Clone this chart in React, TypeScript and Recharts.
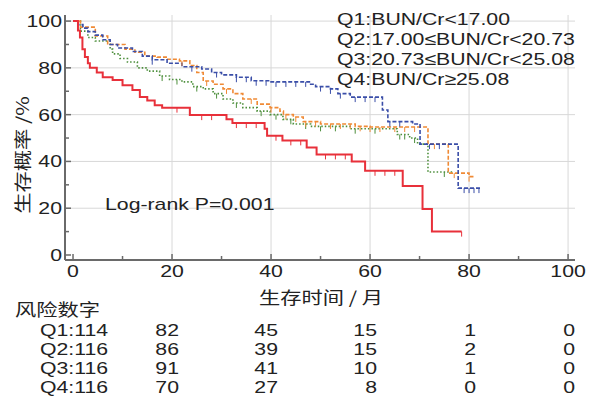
import React from 'react';
import { ComposedChart, Line, Scatter, XAxis, YAxis, CartesianGrid } from 'recharts';

// Kaplan-Meier step points: month / survival %
const q1Time = [0, 1, 2, 3, 4.5, 6, 7.5, 9, 12, 14, 16, 19, 22, 26, 28, 30, 33, 36, 40, 48, 49, 52, 53.5, 56, 62.5, 63.6, 68.6, 70.1, 77.8, 82.4];
const q1Surv = [100, 98.5, 97, 95.5, 94, 92, 90, 88.5, 87, 85, 83.5, 82, 80.5, 79.5, 78, 77, 76, 74.5, 74, 73, 72, 71, 69, 67.5, 62, 57, 56, 47.4, 28.6, 28.6];

const q2Time = [0, 1.5, 4.5, 7, 10.5, 12.5, 14.5, 17, 19, 21.5, 23.6, 25, 26.3, 28.3, 30.3, 32.3, 34.3, 37.2, 39.8, 41.8, 42.5, 44.5, 46.5, 50, 57, 60, 71.7, 75.8, 80, 81];
const q2Surv = [100, 97.4, 93.6, 90, 88, 86.7, 85, 84.6, 83.7, 83, 81, 78, 74.4, 73, 71, 69, 66.7, 64.5, 63, 61.5, 60, 59, 57, 56, 55, 54.7, 47.4, 35, 33.5, 33.5];

const q3Time = [0, 1.5, 3, 4.5, 7.5, 8, 9.5, 11, 13, 15, 17.5, 19.5, 22, 24.2, 26.3, 28.3, 30.3, 32.3, 34.3, 37.2, 39.8, 42.4, 44.5, 48, 56, 65.5, 68, 69.6, 71.7, 77];
const q3Surv = [100, 95.7, 93, 91.5, 88, 86, 84, 82.5, 80, 78.6, 76.5, 75, 74, 72, 71, 69, 66.7, 65, 63, 61.5, 60, 58, 56, 55, 54, 51.5, 50, 47.4, 35.5, 35.5];

const q4Time = [0, 1, 1.4, 1.9, 2.4, 3, 3.4, 4.8, 6, 8, 10, 12, 13.5, 15, 16.5, 18, 23.6, 31, 32.2, 38.7, 39.2, 42.3, 47.2, 49.2, 56.3, 59, 66.6, 70.6, 72.5, 78.5];
const q4Surv = [100, 96, 93, 88, 84.6, 82, 80, 78, 76, 74.8, 72.6, 70.5, 67.5, 66, 64, 63, 59.8, 58, 56.4, 54, 51, 49, 46, 43, 40, 36, 29.5, 19.7, 10, 10];

// censored observations (months)
const q1Censor = [16, 24, 29, 33, 35, 37, 39, 41, 43, 45, 47, 50, 52, 54, 57, 59, 61, 64, 66, 72, 74, 79, 80, 81, 82];
const q2Censor = [22, 27, 31, 36, 40, 43, 45, 47, 49, 52, 54, 56, 58, 60, 62, 65, 67, 69, 73, 77, 80];
const q3Censor = [18, 21, 25, 29, 33, 38, 41, 44, 47, 50, 53, 57, 61, 66, 67, 69, 75];
const q4Censor = [21, 26, 28, 33, 35, 37, 41, 44, 46, 51, 53, 55, 61, 63, 65, 78.5];

const xTicks = [0, 10, 20, 30, 40, 50, 60, 70, 80, 90, 100];
const yTicks = [0, 10, 20, 30, 40, 50, 60, 70, 80, 90, 100];
const gridValues = [20, 40, 60, 80, 100];

const legendLines = ['Q1:BUN/Cr<17.00', 'Q2:17.00≤BUN/Cr<20.73', 'Q3:20.73≤BUN/Cr<25.08', 'Q4:BUN/Cr≥25.08'];
const riskMonths = [20, 40, 60, 80, 100];
const riskLabels = ['Q1:114', 'Q2:116', 'Q3:116', 'Q4:116'];
const riskQ1 = [82, 45, 15, 1, 0];
const riskQ2 = [86, 39, 15, 2, 0];
const riskQ3 = [91, 41, 10, 1, 0];
const riskQ4 = [70, 27, 8, 0, 0];

const W = 592;
const H = 405;
const FONT = '"Liberation Sans", Arial, sans-serif';
const CJK = '"Noto Sans CJK SC", sans-serif';
const axisColor = '#6a6a6a';
const textColor = '#222';

const toSteps = (t: number[], s: number[]) => t.map((v, i) => ({ t: v, s: s[i] }));
const survAt = (t: number[], s: number[], x: number) => {
  let v = s[0];
  t.forEach((tt, i) => {
    if (tt <= x) v = s[i];
  });
  return v;
};
const toCensor = (c: number[], t: number[], s: number[]) => c.map((x) => ({ t: x, s: survAt(t, s, x) }));

const series = [
  { key: 'Q3', color: '#4d8f3c', dash: '1.5 2', width: 1.6, steps: toSteps(q3Time, q3Surv), cens: toCensor(q3Censor, q3Time, q3Surv) },
  { key: 'Q2', color: '#f08a35', dash: '4 2', width: 1.6, steps: toSteps(q2Time, q2Surv), cens: toCensor(q2Censor, q2Time, q2Surv) },
  { key: 'Q1', color: '#3a4ea8', dash: '4 2', width: 1.6, steps: toSteps(q1Time, q1Surv), cens: toCensor(q1Censor, q1Time, q1Surv) },
  { key: 'Q4', color: '#e8303a', dash: undefined, width: 2, steps: toSteps(q4Time, q4Surv), cens: toCensor(q4Censor, q4Time, q4Surv) },
];

// stretched text, the source figure uses wide lettering
const T = ({ x, y, anchor = 'start', size = 17, family = FONT, children }: any) => (
  <text
    transform={`translate(${x},${y}) scale(1.25,1)`}
    textAnchor={anchor}
    fontSize={size}
    fontFamily={family}
    fill={textColor}
  >
    {children}
  </text>
);

const XTick = (props: any) => {
  const { x, y, payload } = props;
  const major = payload.value % 20 === 0;
  return (
    <g>
      <line x1={x} y1={y} x2={x} y2={y - (major ? 6 : 4)} stroke={axisColor} strokeWidth={1.5} />
      {major && (
        <T x={x} y={y + 17} anchor="middle">
          {payload.value}
        </T>
      )}
    </g>
  );
};

const YTick = (props: any) => {
  const { x, y, payload } = props;
  const major = payload.value % 20 === 0;
  return (
    <g>
      <line x1={x} y1={y} x2={x + (major ? 6 : 4)} y2={y} stroke={axisColor} strokeWidth={1.5} />
      {major && (
        <T x={x - 3} y={y + 6} anchor="end">
          {payload.value}
        </T>
      )}
    </g>
  );
};

const censorShape = (color: string) => (props: any) => (
  <line x1={props.cx} y1={props.cy} x2={props.cx} y2={props.cy + 5} stroke={color} strokeWidth={1} />
);

// x position of a month on the plot, used for the at-risk table columns
const monthX = (m: number) => 73 + m * 4.95;

export default function App() {
  const rows = [riskQ1, riskQ2, riskQ3, riskQ4];
  return (
    <div style={{ position: 'absolute', left: 0, top: 0, width: W, height: H, background: '#fff' }}>
      <ComposedChart width={W} height={H} margin={{ top: 15, right: 17, bottom: 0, left: 0 }}>
        <CartesianGrid stroke="#d8d8d8" horizontalValues={gridValues} verticalValues={gridValues} />
        <XAxis
          type="number"
          dataKey="t"
          domain={[-1.62, 101.4]}
          allowDataOverflow
          ticks={xTicks}
          interval={0}
          height={145}
          tickSize={0}
          tickMargin={0}
          tick={<XTick />}
          axisLine={{ stroke: axisColor, strokeWidth: 2 }}
        />
        <YAxis
          type="number"
          dataKey="s"
          domain={[-2.14, 102.6]}
          allowDataOverflow
          ticks={yTicks}
          interval={0}
          width={65}
          tickSize={0}
          tickMargin={0}
          tick={<YTick />}
          axisLine={{ stroke: axisColor, strokeWidth: 2 }}
        />
        {series.map((sr) => (
          <Line
            key={sr.key}
            data={sr.steps}
            dataKey="s"
            type="stepAfter"
            stroke={sr.color}
            strokeWidth={sr.width}
            strokeDasharray={sr.dash}
            dot={false}
            activeDot={false}
            isAnimationActive={false}
          />
        ))}
        {series.map((sr) => (
          <Scatter
            key={sr.key + 'c'}
            data={sr.cens}
            dataKey="s"
            shape={censorShape(sr.color)}
            isAnimationActive={false}
          />
        ))}
      </ComposedChart>

      <svg width={W} height={H} style={{ position: 'absolute', left: 0, top: 0, pointerEvents: 'none' }}>
        {legendLines.map((l, i) => (
          <T key={l} x={337} y={25 + i * 20}>
            {l}
          </T>
        ))}
        <T x={105} y={210}>Log-rank P=0.001</T>

        <g transform="translate(29,155) rotate(-90) scale(1.25,1)">
          <text textAnchor="middle" fontSize={17} fontFamily={CJK} fill={textColor}>
            生存概率 /%
          </text>
        </g>
        <T x={321} y={304} anchor="middle" family={CJK}>
          生存时间 / 月
        </T>

        <T x={15} y={316} family={CJK}>
          风险数字
        </T>
        {riskLabels.map((lab, r) => (
          <g key={lab}>
            <T x={40} y={336 + r * 19}>
              {lab}
            </T>
            {rows[r].map((n, c) => (
              <T key={c} x={monthX(riskMonths[c]) + 7} y={336 + r * 19} anchor="end">
                {n}
              </T>
            ))}
          </g>
        ))}
      </svg>
    </div>
  );
}
